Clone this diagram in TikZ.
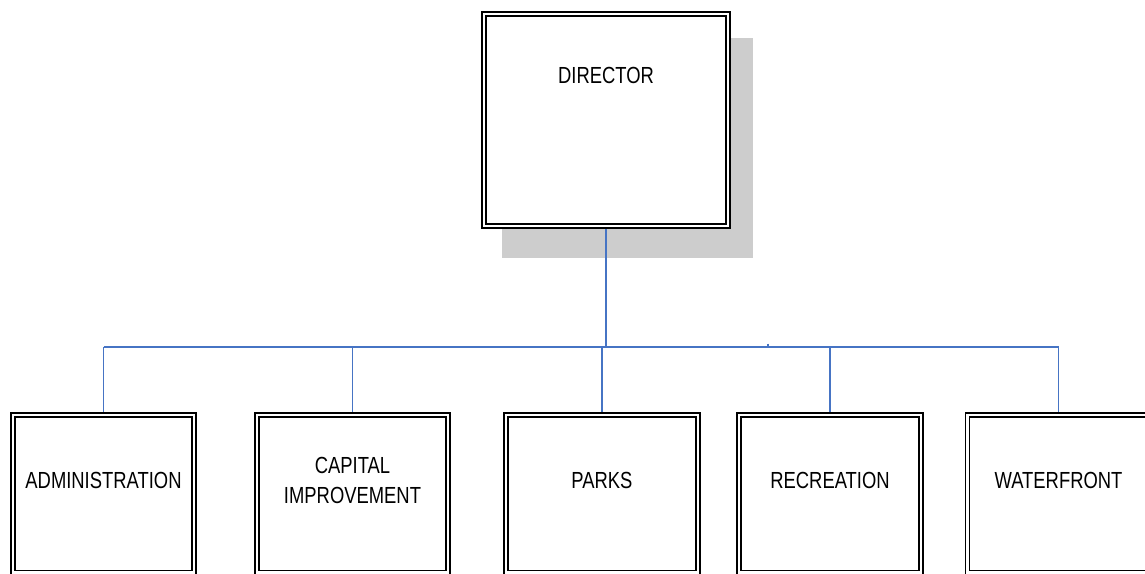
\documentclass[tikz,border=0pt]{standalone}
\usepackage{fontspec}
\setmainfont{Liberation Sans}[FakeStretch=0.79]
\definecolor{linkblue}{RGB}{70,116,196}
\definecolor{shadowgray}{RGB}{205,205,205}
\begin{document}
\begin{tikzpicture}[x=1pt,y=-1pt,
  unitbox/.style={rectangle, draw=black, line width=1.8pt, double=white,
    double distance=2.2pt, fill=white, inner sep=0pt},
  unitlabel/.style={font=\fontsize{23.3}{30}\selectfont, align=center, inner sep=0pt},
  link/.style={draw=linkblue, line width=1.8pt}]
\useasboundingbox (0,0) rectangle (1145,573);
\clip (0,0) rectangle (1145,573);

% drop shadow behind the director box
\fill[shadowgray] (502,38) rectangle (753,258);

% boxes (placed first so the lines can refer to them)
\coordinate (bus) at (606,347);
\coordinate (tick) at (768,343.5);
\node[unitbox, minimum width=244pt, minimum height=212pt] (dir) at (606,120) {};
\node[unitbox, minimum width=181pt, minimum height=157.5pt] (admin) at (103.5,493.75) {};
\node[unitbox, minimum width=191pt, minimum height=157.5pt] (cap) at (352.5,493.75) {};
\node[unitbox, minimum width=192pt, minimum height=157.5pt] (parks) at (602,493.75) {};
\node[unitbox, minimum width=182pt, minimum height=157.5pt] (rec) at (830,493.75) {};
\node[unitbox, minimum width=182pt, minimum height=157.5pt] (water) at (1058.5,493.75) {};

% reporting lines
\draw[link] (dir.south) -- (bus);
\draw[link] (admin.north |- bus) -- (water.north |- bus);
\draw[link] (tick) -- (tick |- bus);
\foreach \u in {admin,cap,parks,rec,water}
  \draw[link] (\u.north |- bus) -- (\u.north);

% redraw the box borders over the line ends
\node[unitbox, minimum width=244pt, minimum height=212pt] at (dir) {};
\foreach \u/\w in {admin/181,cap/191,parks/192,rec/182,water/182}
  \node[unitbox, minimum width=\w pt, minimum height=157.5pt] at (\u) {};

% labels
\node[unitlabel] (dirtext) at (606,75) {DIRECTOR};
\node[unitlabel] (admintext) at (103.5,480) {ADMINISTRATION};
\node[unitlabel] (captext) at (352.5,480) {CAPITAL\\IMPROVEMENT};
\node[unitlabel] (parkstext) at (602,480) {PARKS};
\node[unitlabel] (rectext) at (830,480) {RECREATION};
\node[unitlabel] (watertext) at (1058.5,480) {WATERFRONT};
\end{tikzpicture}
\end{document}
